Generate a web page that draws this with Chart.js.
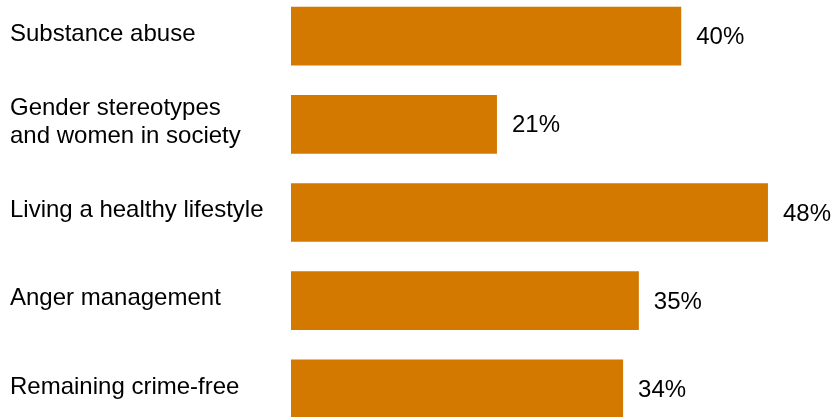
<!DOCTYPE html>
<html>
<head>
<meta charset="utf-8">
<script src="https://cdn.jsdelivr.net/npm/chart.js@4"></script>
<style>
  html, body { margin: 0; padding: 0; background: #fff; overflow: hidden; width: 833px; height: 417px; }
  #wrap { position: absolute; left: 0; top: -8px; width: 833px; height: 441px; }
</style>
</head>
<body>
<div id="wrap"><canvas id="topicChart" width="833" height="441"></canvas></div>
<script>
// Topics covered, share of respondents
const topics = [
    "Substance abuse",
    ["Gender stereotypes", "and women in society"],
    "Living a healthy lifestyle",
    "Anger management",
    "Remaining crime-free"
];
const shares = [39.6, 20.9, 48.4, 35.3, 33.7];
const shareLabels = ["40%", "21%", "48%", "35%", "34%"];

const FONT = "'Liberation Sans', Arial, sans-serif";

// writes the percentage just right of each bar
const valueLabels = {
    id: "valueLabels",
    afterDatasetsDraw(chart) {
        const ctx = chart.ctx;
        const meta = chart.getDatasetMeta(0);
        ctx.save();
        ctx.font = "24px " + FONT;
        ctx.fillStyle = "#000";
        ctx.textAlign = "left";
        ctx.textBaseline = "middle";
        meta.data.forEach((bar, i) => {
            ctx.fillText(shareLabels[i], bar.x + 15, bar.y + 1.5);
        });
        ctx.restore();
    }
};

new Chart(document.getElementById("topicChart"), {
    type: "bar",
    data: {
        labels: topics,
        datasets: [{
            data: shares,
            backgroundColor: "#D47900",
            borderWidth: 0,
            categoryPercentage: 1,
            barPercentage: 0.665
        }]
    },
    options: {
        indexAxis: "y",
        responsive: false,
        animation: false,
        layout: { padding: { left: 10, right: 0, top: 0, bottom: 0 } },
        plugins: {
            legend: { display: false },
            tooltip: { enabled: false }
        },
        scales: {
            x: {
                display: false,
                min: 0,
                max: 55
            },
            y: {
                grid: { display: false, drawTicks: false },
                border: { display: false },
                afterFit(scale) {
                    scale.width = 281;
                    // let the bands fill the full canvas height
                    scale.paddingTop = 0;
                    scale.paddingBottom = 0;
                },
                ticks: {
                    crossAlign: "far",
                    padding: 0,
                    labelOffset: -2,
                    color: "#000",
                    font: { family: FONT, size: 24, lineHeight: 1.15 }
                }
            }
        }
    },
    plugins: [valueLabels]
});
</script>
</body>
</html>
